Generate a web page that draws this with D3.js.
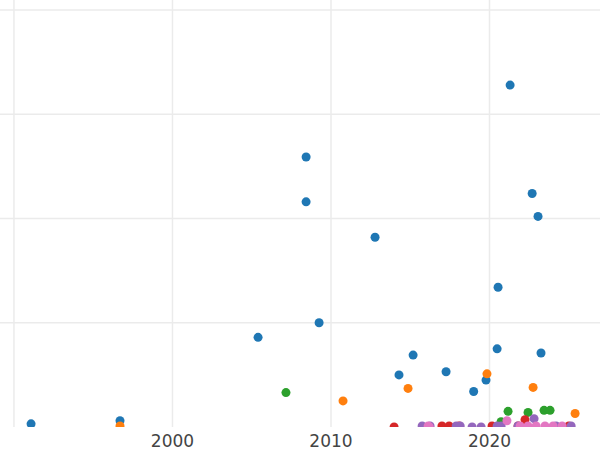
<!DOCTYPE html>
<html><head><meta charset="utf-8">
<script src="https://cdn.jsdelivr.net/npm/d3@7"></script>
<style>body{margin:0;background:#fff}svg{display:block}</style>
</head><body><svg id="c" width="600" height="450"></svg>
<script>
// series: [year, value]
var series = ['blue', 'orange', 'green', 'red', 'purple', 'pink'];
var colors = ['#1f77b4', '#ff7f0e', '#2ca02c', '#d62728', '#9467bd', '#e377c2'];
var blue = [[1991.08,0.03],[1996.69,0.06],[2008.43,2.59],[2008.43,2.16],[2021.3,3.28],[2022.69,2.24],
  [2023.06,2.02],[2012.78,1.82],[2020.54,1.34],[2009.25,1.0],[2005.4,0.86],[2015.18,0.69],
  [2020.48,0.75],[2023.25,0.71],[2014.29,0.5],[2017.26,0.53],[2019.78,0.45],[2019.0,0.34]];
var orange = [[1996.69,0.01],[2010.76,0.25],[2014.86,0.37],[2019.84,0.51],[2022.75,0.38],[2025.4,0.13]];
var green = [[2007.16,0.33],[2021.17,0.15],[2022.43,0.14],[2023.44,0.16],[2023.82,0.16],[2020.73,0.05]];
var red = [[2013.98,0],[2017.0,0.01],[2017.45,0.01],[2018.08,0.01],[2020.16,0.01],[2022.24,0.07],
  [2022.3,0.01],[2025.0,0.01],[2021.8,0.01]];
var purple = [[2015.75,0.01],[2016.25,0.01],[2017.9,0.01],[2018.15,0.01],[2018.9,0],[2019.47,0],
  [2020.48,0.01],[2020.73,0.01],[2022.81,0.08],[2024.2,0.01],[2025.15,0.01],[2021.8,0.01]];
var pink = [[2016.13,0.01],[2021.1,0.06],[2021.93,0.01],[2022.43,0.01],[2022.94,0.01],[2023.5,0.01],
  [2024.01,0.01],[2024.58,0.01],[2016.2,0]];
var xTicks = [1990, 2000, 2010, 2020];
var yTicks = [1, 2, 3, 4];

var data = [blue, orange, green, red, purple, pink];
var svg = d3.select('#c');
var x = d3.scaleLinear().domain([1989.12, 2026.97]).range([0, 600]);
var y = d3.scaleLinear().domain([0, 4]).range([427, 10]);

svg.append('defs').append('clipPath').attr('id', 'clip')
  .append('rect').attr('x', 0).attr('y', 0).attr('width', 600).attr('height', 427);

svg.append('g').selectAll('line').data(xTicks).join('line')
  .attr('x1', d => x(d)).attr('x2', d => x(d)).attr('y1', 0).attr('y2', 427)
  .attr('stroke', '#ebebeb').attr('stroke-width', 1.5);
svg.append('g').selectAll('line').data(yTicks).join('line')
  .attr('x1', 0).attr('x2', 600).attr('y1', d => y(d)).attr('y2', d => y(d))
  .attr('stroke', '#ebebeb').attr('stroke-width', 1.5);

var pts = svg.append('g').attr('clip-path', 'url(#clip)');
data.forEach(function (s, i) {
  pts.append('g').selectAll('circle').data(s).join('circle')
    .attr('cx', d => x(d[0])).attr('cy', d => y(d[1])).attr('r', 4.5)
    .attr('fill', colors[i]);
});

svg.append('g').selectAll('text').data(xTicks.filter(d => d > 1990)).join('text')
  .attr('x', d => x(d)).attr('y', 447).attr('text-anchor', 'middle')
  .attr('font-family', 'DejaVu Sans').attr('font-size', 17).attr('fill', '#444')
  .text(d => d);
</script></body></html>
